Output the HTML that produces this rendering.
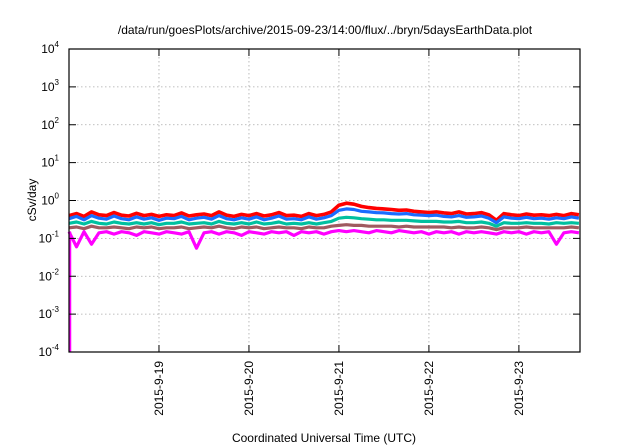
<!DOCTYPE html>
<html><head><meta charset="utf-8"><style>
body{margin:0;background:#fff;}
svg{display:block;font-family:"Liberation Sans",sans-serif;}
</style></head><body>
<svg id="chart" width="640" height="448" viewBox="0 0 640 448">
<text x="325" y="34" font-size="12" text-anchor="middle">/data/run/goesPlots/archive/2015-09-23/14:00/flux/../bryn/5daysEarthData.plot</text>
<text x="0" y="0" font-size="12" text-anchor="middle" transform="translate(36,200) rotate(-90)">cSv/day</text>
<text x="324" y="442" font-size="12" text-anchor="middle">Coordinated Universal Time (UTC)</text>
<g id="grid"></g><g id="series"></g><g id="axes"></g>
</svg>
<script>
const xTickLabels=["2015-9-19","2015-9-20","2015-9-21","2015-9-22","2015-9-23"];
const xTickHours=[24,48,72,96,120];
const yExps=[-4,-3,-2,-1,0,1,2,3,4];
const hours=[];for(let i=0;i<69;i++)hours.push(i*2);
const red=[0.40,0.45,0.38,0.50,0.42,0.40,0.48,0.41,0.39,0.46,
0.40,0.43,0.38,0.42,0.40,0.47,0.39,0.42,0.44,0.40,
0.50,0.41,0.38,0.43,0.40,0.45,0.39,0.42,0.48,0.40,
0.41,0.38,0.45,0.40,0.43,0.50,0.75,0.85,0.80,0.70,
0.65,0.62,0.60,0.58,0.55,0.56,0.52,0.50,0.48,0.50,
0.47,0.45,0.50,0.44,0.45,0.48,0.42,0.30,0.45,0.42,
0.40,0.44,0.41,0.42,0.40,0.43,0.40,0.45,0.42];
const blue=[0.33,0.38,0.31,0.40,0.34,0.32,0.39,0.33,0.31,0.37,
0.32,0.35,0.30,0.34,0.33,0.38,0.31,0.34,0.36,0.32,
0.40,0.33,0.31,0.35,0.32,0.37,0.31,0.34,0.39,0.32,
0.33,0.31,0.37,0.32,0.35,0.40,0.55,0.60,0.58,0.52,
0.50,0.48,0.47,0.45,0.44,0.45,0.42,0.41,0.40,0.41,
0.38,0.37,0.40,0.36,0.37,0.39,0.34,0.26,0.37,0.34,
0.33,0.36,0.33,0.34,0.32,0.35,0.33,0.37,0.34];
const teal=[0.25,0.27,0.24,0.28,0.25,0.24,0.27,0.25,0.24,0.26,
0.24,0.26,0.23,0.25,0.25,0.27,0.24,0.25,0.26,0.24,
0.28,0.25,0.24,0.26,0.24,0.27,0.24,0.25,0.27,0.24,
0.25,0.24,0.26,0.24,0.26,0.28,0.34,0.36,0.35,0.33,
0.32,0.31,0.31,0.30,0.30,0.30,0.29,0.28,0.28,0.28,
0.27,0.27,0.28,0.26,0.26,0.27,0.25,0.21,0.26,0.25,
0.25,0.26,0.25,0.25,0.24,0.26,0.25,0.26,0.25];
const brown=[0.19,0.20,0.18,0.21,0.19,0.19,0.20,0.19,0.18,0.20,
0.19,0.20,0.18,0.19,0.19,0.20,0.18,0.19,0.20,0.19,
0.21,0.19,0.18,0.20,0.19,0.20,0.18,0.19,0.20,0.19,
0.19,0.18,0.20,0.19,0.19,0.21,0.22,0.23,0.22,0.22,
0.21,0.21,0.21,0.21,0.20,0.21,0.20,0.20,0.20,0.20,
0.20,0.19,0.20,0.19,0.19,0.20,0.19,0.17,0.19,0.19,
0.19,0.20,0.19,0.19,0.19,0.19,0.19,0.20,0.19];
const magenta=[0.15,0.06,0.15,0.07,0.14,0.15,0.13,0.15,0.14,0.12,
0.15,0.14,0.13,0.15,0.14,0.13,0.15,0.055,0.14,0.15,
0.13,0.15,0.14,0.12,0.15,0.14,0.13,0.15,0.14,0.15,
0.12,0.15,0.14,0.15,0.13,0.15,0.16,0.15,0.16,0.15,
0.14,0.16,0.15,0.14,0.16,0.15,0.14,0.15,0.13,0.15,
0.14,0.15,0.13,0.15,0.14,0.15,0.14,0.13,0.15,0.14,
0.15,0.13,0.15,0.14,0.15,0.07,0.14,0.15,0.14];
const dropHours=[0];
const dropValues=[0.0001];
const X0=69,X1=580,Y0=49,Y1=352,H0=0,H1=136.3;
const xs=h=>X0+(h-H0)/(H1-H0)*(X1-X0);
const ys=v=>Y1-(Math.log10(v)+4)/8*(Y1-Y0);
const NS="http://www.w3.org/2000/svg";
const grid=document.getElementById('grid'),axes=document.getElementById('axes'),ser=document.getElementById('series');
function mk(tag,attrs,parent){const e=document.createElementNS(NS,tag);for(const k in attrs)e.setAttribute(k,attrs[k]);parent.appendChild(e);return e;}
yExps.forEach(p=>{const y=ys(Math.pow(10,p));
 if(p>-4&&p<4){const g=mk('line',{x1:X0,x2:X1,y1:y,y2:y,stroke:'#aaa','stroke-width':0.8,'stroke-dasharray':'1.5,2.5'},grid);
 }
 const t=mk('line',{x1:X0,x2:X0+7,y1:y,y2:y,stroke:'#000'},axes);
 const t2=mk('line',{x1:X1-7,x2:X1,y1:y,y2:y,stroke:'#000'},axes);
 const tx=mk('text',{x:X0-10,y:y+4,'font-size':12,'text-anchor':'end'},axes);
 
 tx.textContent='10';const s=mk('tspan',{dy:-6,'font-size':8},tx);s.textContent=String(p);});
xTickHours.forEach((h,i)=>{const x=xs(h);
 const g=mk('line',{x1:x,x2:x,y1:Y0,y2:Y1,stroke:'#aaa','stroke-width':0.8,'stroke-dasharray':'1.5,2.5'},grid);
 
 const t=mk('line',{x1:x,x2:x,y1:Y1-7,y2:Y1,stroke:'#000'},axes);
 const t2=mk('line',{x1:x,x2:x,y1:Y0,y2:Y0+7,stroke:'#000'},axes);
 const tx=mk('text',{x:0,y:0,'font-size':12,'text-anchor':'end',transform:`translate(${x+4},${Y1+9}) rotate(-90)`},axes);
 tx.textContent=xTickLabels[i];});
const seriesList=[[red,'#ff0000','series-red',3.6],[blue,'#1a6cff','series-blue',3.2],[teal,'#00c0a0','series-teal',3.2],[brown,'#a05a60','series-brown',3.2],[magenta,'#ff00ff','series-magenta',3.2]];
seriesList.forEach(([vals,col,name,w])=>{
 const d=vals.map((v,i)=>(i?'L':'M')+xs(hours[i]).toFixed(1)+','+ys(v).toFixed(1)).join('');
 const p=mk('path',{d:d,fill:'none',stroke:col,'stroke-width':w,'stroke-linejoin':'round'},ser);
 });
dropHours.forEach((h,i)=>{const x=xs(h)+1;
 const l=mk('line',{x1:x,x2:x,y1:ys(magenta[0]),y2:ys(dropValues[i]),stroke:'#ff00ff','stroke-width':2.5},ser);
 });
const fr=mk('rect',{x:X0,y:Y0,width:X1-X0,height:Y1-Y0,fill:'none',stroke:'#000','stroke-width':1.2},axes);

</script>
</body></html>
